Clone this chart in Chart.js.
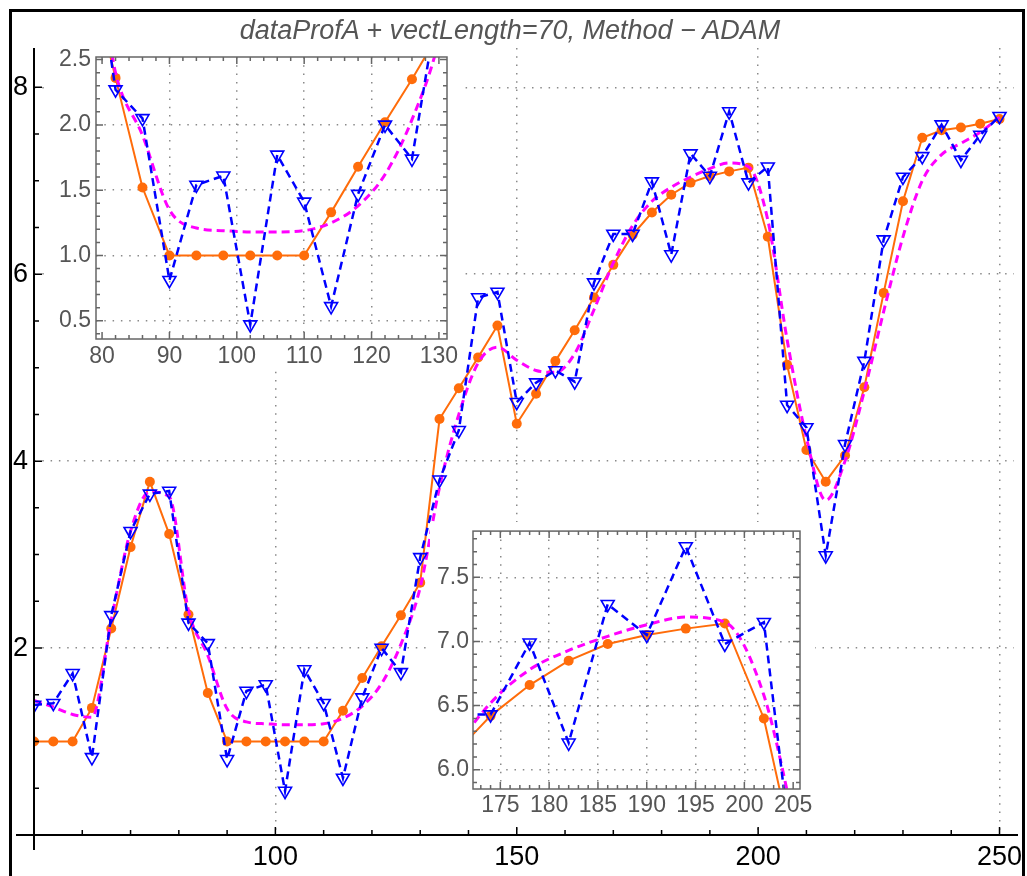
<!DOCTYPE html>
<html>
<head>
<meta charset="utf-8">
<script src="https://cdn.jsdelivr.net/npm/chart.js@4.4.0/dist/chart.umd.min.js"></script>
<style>
  html, body { margin: 0; padding: 0; background: #fff; }
  #page { position: relative; width: 1027px; height: 876px; overflow: hidden; background: #fff; }
  canvas { position: absolute; }
  #inset1, #inset2 { background: #fff; }
  #frame { position: absolute; left: 9px; top: 9px; width: 1010px; height: 900px;
           border: 3px solid #000; border-bottom: none; pointer-events: none; }
  #title { position: absolute; left: 0; width: 1020px; top: 15px; text-align: center;
           font: italic 27px "Liberation Sans", Arial, sans-serif; color: #555; }
</style>
</head>
<body>
<div id="page">
  <canvas id="main" width="1027" height="876" style="left:0;top:0"></canvas>
  <canvas id="inset1" width="415" height="325" style="left:50px;top:45px"></canvas>
  <canvas id="inset2" width="385" height="303" style="left:430px;top:522px"></canvas>
  <div id="title">dataProfA + vectLength=70, Method &minus; ADAM</div>
  <div id="frame"></div>
</div>
<script>
// sample positions (same for all three series)
var xGrid = [50, 54, 58, 62, 66, 70, 74, 78, 82, 86, 90, 94, 98, 102, 106, 110, 114, 118, 122, 126,
             130, 134, 138, 142, 146, 150, 154, 158, 162, 166, 170, 174, 178, 182, 186, 190, 194, 198,
             202, 206, 210, 214, 218, 222, 226, 230, 234, 238, 242, 246, 250];

// orange: fitted profile
var fitVals = [1.0, 1.0, 1.0, 1.36, 2.21, 3.08, 3.78, 3.22, 2.36, 1.52, 1.0, 1.0, 1.0, 1.0, 1.0, 1.0,
               1.33, 1.68, 2.02, 2.35, 2.70, 4.45, 4.78, 5.11, 5.45, 4.40, 4.72, 5.07, 5.40, 5.75, 6.10,
               6.42, 6.66, 6.85, 6.98, 7.05, 7.10, 7.14, 6.40, 5.03, 4.12, 3.78, 4.06, 4.79, 5.80, 6.78,
               7.46, 7.54, 7.57, 7.61, 7.66];

// blue triangles: noisy data
var noisyVals = [1.39, 1.41, 1.73, 0.83, 2.35, 3.25, 3.65, 3.68, 2.27, 2.05, 0.81, 1.54, 1.61, 0.47, 1.77,
                 1.41, 0.61, 1.47, 2.00, 1.74, 2.97, 3.80, 4.33, 5.75, 5.81, 4.63, 4.84, 4.97, 4.85, 5.91,
                 6.43, 6.43, 6.99, 6.21, 7.29, 7.05, 7.74, 6.98, 7.15, 4.60, 4.36, 2.99, 4.18, 5.07, 6.37,
                 7.04, 7.26, 7.60, 7.22, 7.49, 7.69];

// magenta dashed: smooth profile
var smoothVals = [1.44, 1.37, 1.29, 1.26, 2.30, 3.25, 3.67, 3.62, 2.40, 1.92, 1.35, 1.21, 1.19, 1.18, 1.18,
                  1.19, 1.25, 1.38, 1.62, 2.04, 2.65, 3.72, 4.50, 5.05, 5.22, 5.08, 4.97, 4.95, 5.15, 5.62,
                  6.12, 6.52, 6.78, 6.93, 7.04, 7.13, 7.19, 7.15, 6.58, 5.30, 4.25, 3.58, 4.00, 4.75, 5.60,
                  6.40, 7.00, 7.28, 7.40, 7.52, 7.68];

var gridColor = '#8a8a8a';
var gridDash = [1.5, 6.8];

function pts(ys) {
    return xGrid.map(function (x, i) { return {x: x, y: ys[i]}; });
}

function makeDatasets() {
    return [
        {
            label: 'noisy', data: pts(noisyVals),
            borderColor: '#0000ff', borderWidth: 2.5, borderDash: [8, 5],
            pointStyle: 'triangle', pointRotation: 180, pointRadius: 7.5,
            pointBorderColor: '#0000ff', pointBackgroundColor: 'rgba(0,0,0,0)', pointBorderWidth: 1.6,
            tension: 0
        },
        {
            label: 'smooth', data: pts(smoothVals),
            borderColor: '#ff00ff', borderWidth: 3, borderDash: [8, 5],
            pointRadius: 0, cubicInterpolationMode: 'monotone'
        },
        {
            label: 'fit', data: pts(fitVals),
            borderColor: '#ff6c0a', borderWidth: 2,
            pointRadius: 5, pointBackgroundColor: '#ff6c0a', pointBorderWidth: 0,
            tension: 0
        }
    ];
}

function hideAt(list) {
    return function (c) {
        if (c.tick && list.some(function (v) { return Math.abs(v - c.tick.value) < 1e-6; })) return 'rgba(0,0,0,0)';
        return gridColor;
    };
}

// Mathematica style axes for the main plot
var mainAxes = {
    id: 'mainAxes',
    afterDraw: function (chart) {
        var ctx = chart.ctx, a = chart.chartArea;
        var xs = chart.scales.x, ys = chart.scales.y;
        var x0 = a.left, y0 = ys.getPixelForValue(0);
        ctx.save();
        ctx.strokeStyle = '#000';
        ctx.lineWidth = 2;
        ctx.beginPath();
        ctx.moveTo(x0, a.top); ctx.lineTo(x0, y0 + 15);
        ctx.moveTo(16, y0); ctx.lineTo(a.right + 4, y0);
        ctx.stroke();
        ctx.lineWidth = 1.5;
        ctx.beginPath();
        for (var i = 1; i * 0.5 <= ys.max; i++) {
            var p = ys.getPixelForValue(i * 0.5), len = (i % 4 === 0) ? 8 : 5;
            ctx.moveTo(x0, p); ctx.lineTo(x0 + len, p);
        }
        for (var j = 6; j * 10 <= xs.max; j++) {
            var q = xs.getPixelForValue(j * 10), l2 = (j % 5 === 0) ? 8 : 5;
            ctx.moveTo(q, y0); ctx.lineTo(q, y0 - l2);
        }
        ctx.stroke();
        ctx.restore();
    }
};

// frame with inward ticks on all four sides for the insets
var insetFrame = {
    id: 'insetFrame',
    afterDraw: function (chart, args, o) {
        var ctx = chart.ctx, a = chart.chartArea;
        var xs = chart.scales.x, ys = chart.scales.y;
        ctx.save();
        ctx.strokeStyle = '#666';
        ctx.lineWidth = 1.5;
        ctx.strokeRect(a.left, a.top, a.right - a.left, a.bottom - a.top);
        ctx.beginPath();
        var i, v, p, len, r;
        for (i = Math.ceil(xs.min / o.xMinor - 1e-9); i * o.xMinor <= xs.max + 1e-9; i++) {
            v = i * o.xMinor; r = v / o.xMajor;
            len = Math.abs(r - Math.round(r)) < 1e-6 ? 7 : 4;
            p = xs.getPixelForValue(v);
            ctx.moveTo(p, a.bottom); ctx.lineTo(p, a.bottom - len);
            ctx.moveTo(p, a.top); ctx.lineTo(p, a.top + len);
        }
        for (i = Math.ceil(ys.min / o.yMinor - 1e-9); i * o.yMinor <= ys.max + 1e-9; i++) {
            v = i * o.yMinor; r = v / o.yMajor;
            len = Math.abs(r - Math.round(r)) < 1e-6 ? 7 : 4;
            p = ys.getPixelForValue(v);
            ctx.moveTo(a.left, p); ctx.lineTo(a.left + len, p);
            ctx.moveTo(a.right, p); ctx.lineTo(a.right - len, p);
        }
        ctx.stroke();
        ctx.restore();
    }
};

function fixedX(h) {
    return function (s) { s.height = h; s.paddingLeft = 0; s.paddingRight = 0; };
}
function fixedY(w) {
    return function (s) { s.width = w; s.paddingTop = 0; s.paddingBottom = 0; };
}

var mainFont = {family: '"Liberation Sans", Arial, sans-serif', size: 27};
var insetFont = {family: '"Liberation Sans", Arial, sans-serif', size: 23};

new Chart(document.getElementById('main'), {
    type: 'line',
    data: {datasets: makeDatasets()},
    options: {
        responsive: false, animation: false,
        layout: {padding: {top: 48, right: 13, left: 0, bottom: 0}},
        plugins: {legend: {display: false}, tooltip: {enabled: false}},
        scales: {
            x: {
                type: 'linear', min: 50, max: 253,
                afterFit: fixedX(41),
                ticks: {stepSize: 50, includeBounds: false, autoSkip: false, maxRotation: 0,
                        color: '#000', font: mainFont, padding: 6,
                        callback: function (v) { return v === 50 ? '' : String(v); }},
                grid: {drawTicks: false, color: hideAt([50]), lineWidth: 1.5},
                border: {display: false, dash: gridDash}
            },
            y: {
                type: 'linear', min: 0, max: 8.42,
                afterFit: fixedY(34),
                ticks: {stepSize: 2, includeBounds: false, color: '#000', font: mainFont, padding: 6,
                        callback: function (v) { return v === 0 ? '' : String(v); }},
                grid: {drawTicks: false, color: hideAt([0]), lineWidth: 1.5},
                border: {display: false, dash: gridDash}
            }
        }
    },
    plugins: [mainAxes]
});

new Chart(document.getElementById('inset1'), {
    type: 'line',
    data: {datasets: makeDatasets()},
    options: {
        responsive: false, animation: false,
        layout: {padding: {top: 12, right: 18, left: 0, bottom: 0}},
        plugins: {legend: {display: false}, tooltip: {enabled: false},
                  insetFrame: {xMajor: 10, xMinor: 2, yMajor: 0.5, yMinor: 0.1}},
        scales: {
            x: {
                type: 'linear', min: 79.1, max: 131.2,
                afterFit: fixedX(31),
                ticks: {stepSize: 10, includeBounds: false, autoSkip: false, maxRotation: 0,
                        color: '#555', font: insetFont, padding: 4},
                grid: {drawTicks: false, color: hideAt([80, 130]), lineWidth: 1.5},
                border: {display: false, dash: gridDash}
            },
            y: {
                type: 'linear', min: 0.36, max: 2.52,
                afterFit: fixedY(46),
                ticks: {stepSize: 0.5, includeBounds: false, color: '#555', font: insetFont, padding: 5,
                        callback: function (v) { return v.toFixed(1); }},
                grid: {drawTicks: false, color: hideAt([2.5]), lineWidth: 1.5},
                border: {display: false, dash: gridDash}
            }
        }
    },
    plugins: [insetFrame]
});

new Chart(document.getElementById('inset2'), {
    type: 'line',
    data: {datasets: makeDatasets()},
    options: {
        responsive: false, animation: false,
        layout: {padding: {top: 5, right: 15, left: 0, bottom: 0}},
        plugins: {legend: {display: false}, tooltip: {enabled: false},
                  insetFrame: {xMajor: 5, xMinor: 1, yMajor: 0.5, yMinor: 0.1}},
        scales: {
            x: {
                type: 'linear', min: 172.2, max: 205.7,
                afterFit: fixedX(36),
                ticks: {stepSize: 5, includeBounds: false, autoSkip: false, maxRotation: 0,
                        color: '#555', font: insetFont, padding: 3},
                grid: {drawTicks: false, color: hideAt([205]), lineWidth: 1.5},
                border: {display: false, dash: gridDash}
            },
            y: {
                type: 'linear', min: 5.85, max: 7.86,
                afterFit: fixedY(43),
                ticks: {stepSize: 0.5, includeBounds: false, color: '#555', font: insetFont, padding: 4,
                        callback: function (v) { return v.toFixed(1); }},
                grid: {drawTicks: false, color: gridColor, lineWidth: 1.5},
                border: {display: false, dash: gridDash}
            }
        }
    },
    plugins: [insetFrame]
});
</script>
</body>
</html>
